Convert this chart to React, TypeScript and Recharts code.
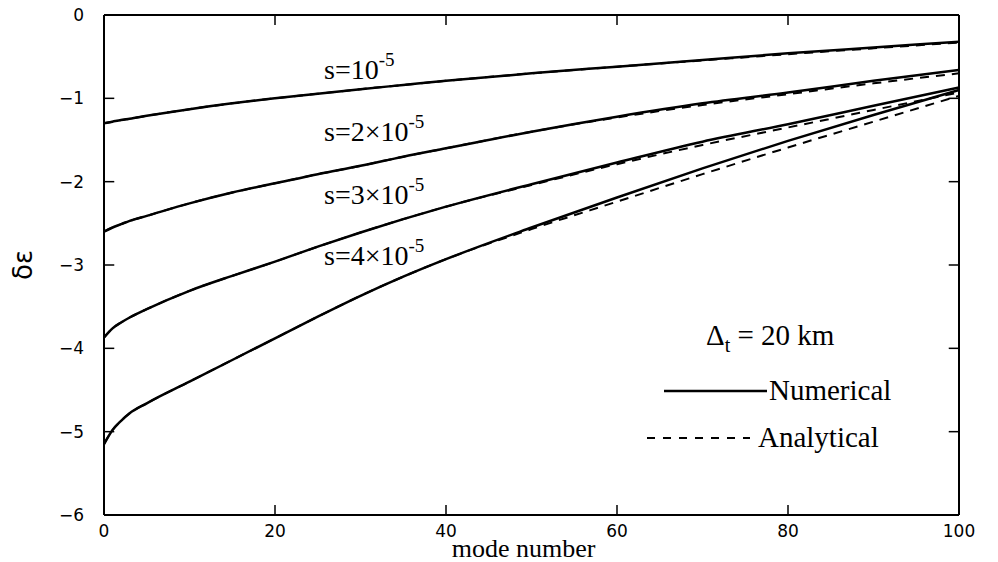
import React from 'react';
import { LineChart, Line, XAxis, YAxis, Label, ReferenceLine } from 'recharts';

// mode numbers sampled along each curve
const modes = [0, 1, 2, 3, 5, 10, 15, 20, 25, 30, 35, 40, 50, 60, 70, 80, 90, 100];

// numerical solution, one array per stretching value s
const numS1 = [-1.3, -1.28, -1.26, -1.245, -1.21, -1.13, -1.06, -1.0, -0.945, -0.89, -0.84, -0.79, -0.7, -0.62, -0.54, -0.46, -0.39, -0.32];
const numS2 = [-2.6, -2.55, -2.51, -2.47, -2.41, -2.26, -2.13, -2.02, -1.91, -1.81, -1.7, -1.6, -1.4, -1.22, -1.06, -0.93, -0.79, -0.66];
const numS3 = [-3.87, -3.76, -3.69, -3.63, -3.53, -3.31, -3.13, -2.96, -2.78, -2.61, -2.45, -2.3, -2.03, -1.77, -1.52, -1.31, -1.09, -0.87];
const numS4 = [-5.15, -4.98, -4.87, -4.78, -4.66, -4.4, -4.14, -3.88, -3.62, -3.37, -3.14, -2.93, -2.55, -2.19, -1.84, -1.51, -1.2, -0.9];

// analytical approximation
const anaS1 = [-1.3, -1.28, -1.26, -1.245, -1.21, -1.13, -1.06, -1.0, -0.945, -0.89, -0.84, -0.79, -0.7, -0.62, -0.545, -0.47, -0.4, -0.33];
const anaS2 = [-2.6, -2.55, -2.51, -2.47, -2.41, -2.26, -2.13, -2.02, -1.91, -1.81, -1.7, -1.6, -1.4, -1.23, -1.08, -0.95, -0.82, -0.7];
const anaS3 = [-3.87, -3.76, -3.69, -3.63, -3.53, -3.31, -3.13, -2.96, -2.78, -2.61, -2.45, -2.3, -2.04, -1.79, -1.56, -1.35, -1.14, -0.93];
const anaS4 = [-5.15, -4.98, -4.87, -4.78, -4.66, -4.4, -4.14, -3.88, -3.62, -3.37, -3.14, -2.93, -2.57, -2.24, -1.91, -1.59, -1.28, -0.97];

const xTicks = [0, 20, 40, 60, 80, 100];
const yTicks = [-6, -5, -4, -3, -2, -1, 0];

const curveLabels = [
  { text: 's=10', y: 79 },
  { text: 's=2×10', y: 141 },
  { text: 's=3×10', y: 204 },
  { text: 's=4×10', y: 265 },
];

const rows = modes.map((m, i) => ({
  mode: m,
  n1: numS1[i], n2: numS2[i], n3: numS3[i], n4: numS4[i],
  a1: anaS1[i], a2: anaS2[i], a3: anaS3[i], a4: anaS4[i],
}));

// inward tick marks, lengths in data units (~10px)
const TX = 1.2;
const TY = 0.12;

const tickFont = { fontFamily: 'DejaVu Sans', fontSize: 17, fill: '#000' };
const serif = 'Liberation Serif, Times New Roman, serif';
const fmt = (v: number) => (v < 0 ? `−${Math.abs(v)}` : `${v}`);

const App: React.FC = () => {
  return (
    <div style={{ position: 'absolute', left: 0, top: 0, width: 998, height: 562, background: '#fff' }}>
      <LineChart width={998} height={562} data={rows} margin={{ top: 14, right: 38, bottom: 0, left: 44 }}>
        <XAxis
          xAxisId="bottom"
          dataKey="mode"
          type="number"
          domain={[0, 100]}
          ticks={xTicks}
          height={47}
          stroke="#000"
          strokeWidth={2}
          tickLine={false}
          tickMargin={4}
          tick={tickFont}
        >
          <Label
            content={({ viewBox }: any) => (
              <text
                x={viewBox.x + viewBox.width / 2 - 8}
                y={viewBox.y + viewBox.height - 5}
                textAnchor="middle"
                style={{ fontFamily: serif, fontSize: 26, fill: '#000' }}
              >
                mode number
              </text>
            )}
          />
        </XAxis>
        <XAxis
          xAxisId="top"
          orientation="top"
          type="number"
          domain={[0, 100]}
          ticks={xTicks}
          height={1}
          stroke="#000"
          strokeWidth={2}
          tickLine={false}
          tick={false}
        />
        <YAxis
          yAxisId="left"
          type="number"
          domain={[-6, 0]}
          ticks={yTicks}
          width={60}
          stroke="#000"
          strokeWidth={2}
          tickLine={false}
          tickMargin={14}
          tick={tickFont}
          tickFormatter={fmt}
        >
          <Label
            content={({ viewBox }: any) => (
              <text
                x={viewBox.x - 21}
                y={viewBox.y + viewBox.height / 2}
                transform={`rotate(-90 ${viewBox.x - 21} ${viewBox.y + viewBox.height / 2})`}
                textAnchor="middle"
                dominantBaseline="central"
                style={{ fontFamily: 'DejaVu Sans', fontSize: 26, fill: '#000' }}
              >
                δε
              </text>
            )}
          />
        </YAxis>
        <YAxis
          yAxisId="right"
          orientation="right"
          type="number"
          domain={[-6, 0]}
          ticks={yTicks}
          width={1}
          stroke="#000"
          strokeWidth={2}
          tickLine={false}
          tick={false}
        />

        {/* tick marks pointing into the frame on all four sides */}
        {yTicks.map((v) => (
          <ReferenceLine key={`l${v}`} xAxisId="bottom" yAxisId="left" segment={[{ x: 0, y: v }, { x: TX, y: v }]} stroke="#000" strokeWidth={1.5} />
        ))}
        {yTicks.map((v) => (
          <ReferenceLine key={`r${v}`} xAxisId="bottom" yAxisId="left" segment={[{ x: 100 - TX, y: v }, { x: 100, y: v }]} stroke="#000" strokeWidth={1.5} />
        ))}
        {xTicks.map((v) => (
          <ReferenceLine key={`b${v}`} xAxisId="bottom" yAxisId="left" segment={[{ x: v, y: -6 }, { x: v, y: -6 + TY }]} stroke="#000" strokeWidth={1.5} />
        ))}
        {xTicks.map((v) => (
          <ReferenceLine key={`t${v}`} xAxisId="bottom" yAxisId="left" segment={[{ x: v, y: -TY }, { x: v, y: 0 }]} stroke="#000" strokeWidth={1.5} />
        ))}

        {(['n1', 'n2', 'n3', 'n4'] as const).map((k) => (
          <Line key={k} xAxisId="bottom" yAxisId="left" dataKey={k} type="monotone" stroke="#000" strokeWidth={2.5} dot={false} isAnimationActive={false} />
        ))}
        {(['a1', 'a2', 'a3', 'a4'] as const).map((k) => (
          <Line key={k} xAxisId="bottom" yAxisId="left" dataKey={k} type="monotone" stroke="#000" strokeWidth={2} strokeDasharray="9 7" dot={false} isAnimationActive={false} />
        ))}
      </LineChart>

      {/* curve annotations and key */}
      <svg width={998} height={562} style={{ position: 'absolute', left: 0, top: 0, pointerEvents: 'none' }}>
        <g style={{ fontFamily: serif, fill: '#000' }}>
          {curveLabels.map((c) => (
            <text key={c.text} x={324} y={c.y} fontSize={28}>
              {c.text}
              <tspan dy={-13} fontSize={19}>-5</tspan>
            </text>
          ))}
          <text x={706} y={345} fontSize={29}>
            Δ<tspan dy={7} fontSize={20}>t</tspan>
            <tspan dy={-7}> = 20 km</tspan>
          </text>
          <line x1={664} x2={767} y1={391} y2={391} stroke="#000" strokeWidth={2.5} />
          <text x={769} y={400} fontSize={29}>Numerical</text>
          <line x1={647} x2={750} y1={438} y2={438} stroke="#000" strokeWidth={2} strokeDasharray="8 8" />
          <text x={758} y={447} fontSize={29}>Analytical</text>
        </g>
      </svg>
    </div>
  );
};

export default App;
